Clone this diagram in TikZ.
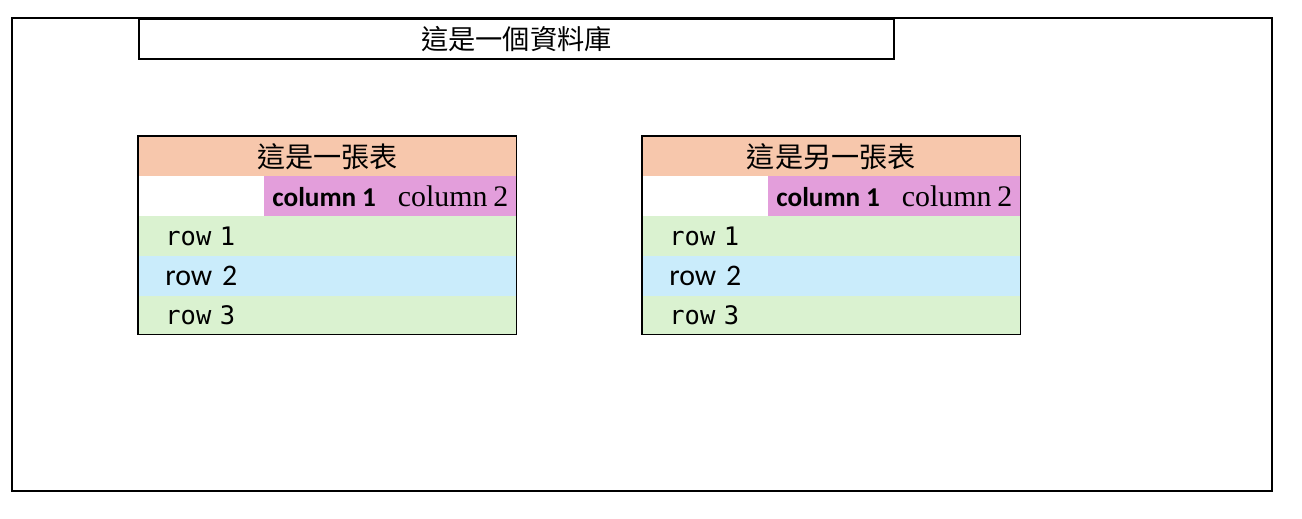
\documentclass[tikz,border=0pt]{standalone}
\usepackage{fontspec}
\setmainfont{Liberation Serif}
\newfontfamily\fntCJK{Noto Sans CJK TC}
\newfontfamily\fntCal{Carlito}
\newfontfamily\fntMono{DejaVu Sans Mono}
\usepackage{tikz}
\usetikzlibrary{fit}
\definecolor{clrHdr}{HTML}{F7C7AC}
\definecolor{clrCol}{HTML}{E39EDB}
\definecolor{clrRowG}{HTML}{DAF2D0}
\definecolor{clrRowB}{HTML}{CAECFB}
\tikzset{
  dbframe/.style={draw, line width=1.1pt},
  titlebox/.style={draw, line width=1.1pt, anchor=north west, inner sep=0pt,
    minimum width=15.1cm, minimum height=0.8cm,
    font=\fntCJK\fontsize{15.5}{18}\selectfont},
  cell/.style={anchor=north west, inner sep=0pt, minimum height=0.8cm},
  hdrcell/.style={cell, fill=clrHdr, minimum width=7.56cm,
    font=\fntCJK\fontsize{16}{19}\selectfont},
  colcell/.style={cell, fill=clrCol, minimum width=5.04cm, inner xsep=0.16cm,
    text width=4.72cm, align=left},
  rowcell/.style={cell, minimum width=7.56cm, inner xsep=0.54cm,
    text width=6.48cm, align=left},
  monolab/.style={font=\fntMono\fontsize{14.5}{17}\selectfont},
  callab/.style={font=\fntCal\fontsize{17}{20}\selectfont},
  tblframe/.style={draw, line width=0.6pt, inner sep=0pt},
}
\begin{document}
\begin{tikzpicture}[x=0.02cm, y=-0.02cm]
\useasboundingbox (0,0) rectangle (1302,519);

\draw[dbframe] (12,18) rectangle (1272,491);
\node[titlebox] (dbtitle) at (138,18) {這是一個資料庫};

% zwei Tabellen, gleich aufgebaut
\foreach \tb/\xl/\ttl in {A/138/這是一張表, B/642/這是另一張表}{
  \node[hdrcell] (hdr\tb) at (\xl,136) {\ttl};
  \node[colcell] (col\tb) at ({\xl+126},176)
    {{\fntCal\bfseries\fontsize{15.5}{18}\selectfont column 1}\hfill
     {\fontsize{17}{20}\selectfont column 2}};
  \node[rowcell, fill=clrRowG, monolab] (rowa\tb) at (\xl,216) {row 1};
  \node[rowcell, fill=clrRowB, callab] (rowb\tb) at (\xl,256) {row 2};
  \node[rowcell, fill=clrRowG, monolab, minimum height=0.76cm] (rowc\tb)
    at (\xl,296) {row 3};
  \node[tblframe, fit=(hdr\tb)(rowc\tb)] (tbl\tb) {};
}

\end{tikzpicture}
\end{document}
